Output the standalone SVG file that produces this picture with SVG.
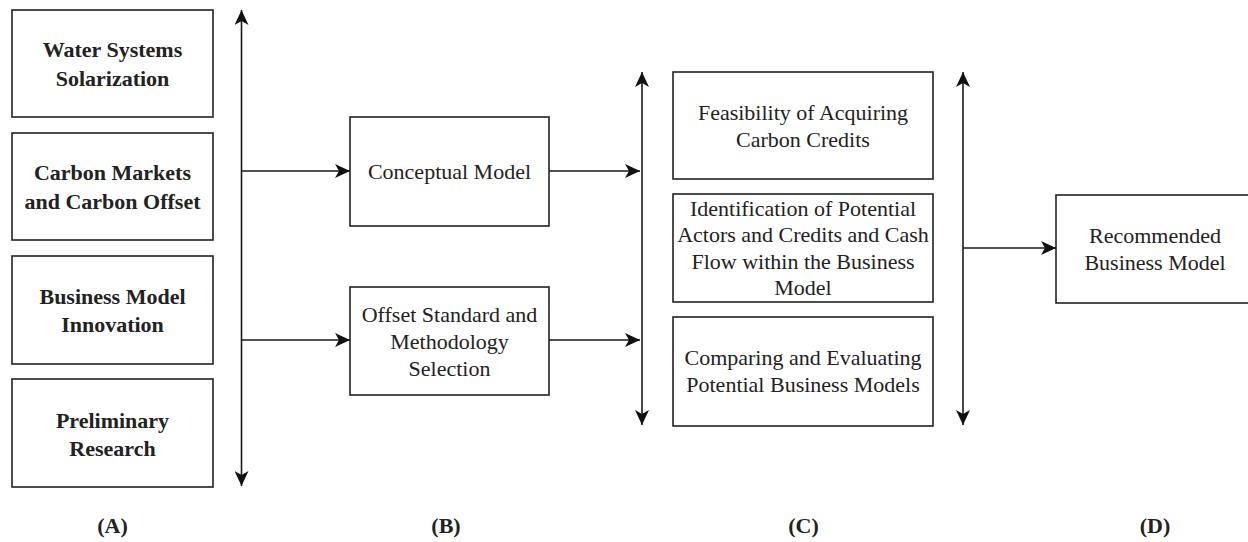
<svg xmlns="http://www.w3.org/2000/svg" width="1248" height="542" viewBox="0 0 1248 542">
  <style>
    .box { fill: #ffffff; stroke: #222222; stroke-width: 1.6; }
    .lbl { font-family: "Liberation Serif", "Times New Roman", serif; font-size: 22px; fill: #222222; text-anchor: middle; }
    .bold { font-weight: bold; }
    .cap { font-family: "Liberation Serif", "Times New Roman", serif; font-size: 22px; font-weight: bold; fill: #222222; text-anchor: middle; }
    .wire { fill: none; stroke: #1a1a1a; stroke-width: 1.6; }
  </style>
  <defs>
    <marker id="head" viewBox="0 0 15 14" refX="15" refY="7" markerWidth="15" markerHeight="14" markerUnits="userSpaceOnUse" orient="auto-start-reverse">
      <path d="M0,0 L15,7 L0,14 L4,7 Z" fill="#111111"/>
    </marker>
  </defs>
  <rect width="1248" height="542" fill="#ffffff"/>

  <!-- Column A: background topics -->
  <g id="water-systems">
    <rect class="box" x="12" y="10" width="201" height="107"/>
    <text class="lbl bold" x="112.5" y="57">Water Systems</text>
    <text class="lbl bold" x="112.5" y="85.5">Solarization</text>
  </g>
  <g id="carbon-markets">
    <rect class="box" x="12" y="133" width="201" height="107"/>
    <text class="lbl bold" x="112.5" y="180">Carbon Markets</text>
    <text class="lbl bold" x="112.5" y="208.5">and Carbon Offset</text>
  </g>
  <g id="business-model-innovation">
    <rect class="box" x="12" y="256" width="201" height="108"/>
    <text class="lbl bold" x="112.5" y="303.5">Business Model</text>
    <text class="lbl bold" x="112.5" y="331.5">Innovation</text>
  </g>
  <g id="preliminary-research">
    <rect class="box" x="12" y="379" width="201" height="108"/>
    <text class="lbl bold" x="112.5" y="428">Preliminary</text>
    <text class="lbl bold" x="112.5" y="455.5">Research</text>
  </g>

  <!-- Column B -->
  <g id="conceptual-model">
    <rect class="box" x="350" y="117" width="199" height="109"/>
    <text class="lbl" x="449.5" y="179">Conceptual Model</text>
  </g>
  <g id="offset-standard">
    <rect class="box" x="350" y="287" width="199" height="108"/>
    <text class="lbl" x="449.5" y="321.5">Offset Standard and</text>
    <text class="lbl" x="449.5" y="348.5">Methodology</text>
    <text class="lbl" x="449.5" y="375.5">Selection</text>
  </g>

  <!-- Column C -->
  <g id="feasibility">
    <rect class="box" x="673" y="72" width="260" height="107"/>
    <text class="lbl" x="803" y="119.5">Feasibility of Acquiring</text>
    <text class="lbl" x="803" y="146.5">Carbon Credits</text>
  </g>
  <g id="identification">
    <rect class="box" x="673" y="194" width="260" height="108"/>
    <text class="lbl" x="803" y="215.5">Identification of Potential</text>
    <text class="lbl" x="803" y="242">Actors and Credits and Cash</text>
    <text class="lbl" x="803" y="268.5">Flow within the Business</text>
    <text class="lbl" x="803" y="295">Model</text>
  </g>
  <g id="comparing">
    <rect class="box" x="673" y="317" width="260" height="109"/>
    <text class="lbl" x="803" y="365">Comparing and Evaluating</text>
    <text class="lbl" x="803" y="392">Potential Business Models</text>
  </g>

  <!-- Column D -->
  <g id="recommended">
    <rect class="box" x="1056" y="195" width="198" height="108"/>
    <text class="lbl" x="1155" y="242.5">Recommended</text>
    <text class="lbl" x="1155" y="269.5">Business Model</text>
  </g>

  <!-- Connectors -->
  <g id="connectors">
    <line class="wire" x1="241.5" y1="10" x2="241.5" y2="486" marker-start="url(#head)" marker-end="url(#head)"/>
    <line class="wire" x1="241.5" y1="171" x2="350" y2="171" marker-end="url(#head)"/>
    <line class="wire" x1="241.5" y1="340" x2="350" y2="340" marker-end="url(#head)"/>
    <line class="wire" x1="549" y1="171" x2="640" y2="171" marker-end="url(#head)"/>
    <line class="wire" x1="549" y1="340" x2="640" y2="340" marker-end="url(#head)"/>
    <line class="wire" x1="642" y1="72" x2="642" y2="425" marker-start="url(#head)" marker-end="url(#head)"/>
    <line class="wire" x1="963" y1="72" x2="963" y2="425" marker-start="url(#head)" marker-end="url(#head)"/>
    <line class="wire" x1="963" y1="248" x2="1056" y2="248" marker-end="url(#head)"/>
  </g>

  <!-- Column captions -->
  <g id="captions">
    <text class="cap" x="112.5" y="533">(A)</text>
    <text class="cap" x="446" y="533">(B)</text>
    <text class="cap" x="803.5" y="533">(C)</text>
    <text class="cap" x="1155" y="533">(D)</text>
  </g>
</svg>
